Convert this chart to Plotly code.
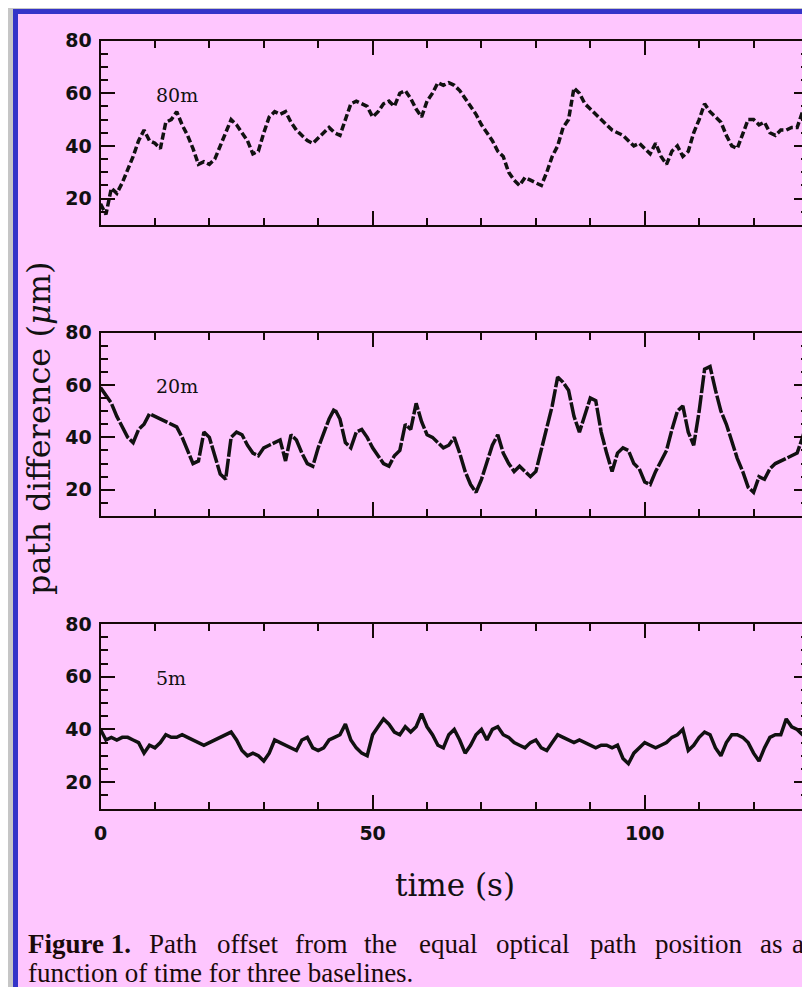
import plotly.graph_objects as go

# ---------------- data ----------------
time_s = list(range(0, 131))

path_80m = [18, 14, 24, 22, 26, 31, 36, 42, 46, 42,
            41, 39, 49, 50, 53, 48, 44, 39, 33, 34,
            33, 35, 40, 45, 50, 48, 45, 42, 37, 38,
            45, 51, 53, 52, 53, 49, 46, 44, 42, 41,
            43, 45, 47, 45, 44, 50, 56, 57, 56, 55,
            51, 53, 56, 57, 55, 60, 61, 58, 54, 51,
            57, 60, 64, 63, 64, 63, 61, 58, 55, 52,
            48, 45, 42, 38, 36, 30, 27, 25, 28, 27,
            26, 25, 30, 36, 40, 47, 50, 62, 60, 56,
            54, 52, 50, 48, 46, 45, 44, 42, 40, 41,
            39, 37, 41, 36, 33, 38, 40, 36, 38, 45,
            50, 56, 53, 51, 49, 44, 40, 39, 45, 50,
            50, 48, 49, 45, 44, 46, 46, 47, 47, 53,
            55]

path_20m = [59, 56, 53, 48, 44, 40, 38, 43, 45, 49,
            48, 47, 46, 45, 44, 40, 35, 30, 31, 42,
            40, 33, 26, 24, 40, 42, 41, 37, 34, 33,
            36, 37, 38, 39, 31, 41, 39, 34, 30, 29,
            36, 42, 47, 51, 47, 38, 36, 42, 43, 40,
            36, 33, 30, 29, 33, 35, 45, 43, 53, 46,
            41, 40, 38, 36, 37, 40, 34, 27, 22, 19,
            24, 31, 37, 41, 34, 30, 27, 29, 27, 25,
            27, 35, 43, 52, 63, 61, 58, 48, 42, 49,
            55, 54, 42, 34, 27, 34, 36, 35, 30, 28,
            23, 22, 27, 31, 35, 43, 50, 52, 42, 37,
            50, 66, 67, 58, 50, 45, 38, 32, 27, 21,
            19, 25, 24, 28, 30, 31, 32, 33, 34, 40,
            47]

path_5m = [40, 36, 37, 36, 37, 37, 36, 35, 31, 34,
           33, 35, 38, 37, 37, 38, 37, 36, 35, 34,
           35, 36, 37, 38, 39, 36, 32, 30, 31, 30,
           28, 31, 36, 35, 34, 33, 32, 36, 37, 33,
           32, 33, 36, 37, 38, 42, 36, 33, 31, 30,
           38, 41, 44, 42, 39, 38, 41, 39, 41, 46,
           41, 38, 34, 33, 38, 40, 36, 31, 34, 38,
           40, 36, 40, 41, 38, 37, 35, 34, 33, 35,
           36, 33, 32, 35, 38, 37, 36, 35, 36, 35,
           34, 33, 34, 34, 33, 34, 29, 27, 31, 33,
           35, 34, 33, 34, 35, 37, 38, 40, 32, 34,
           37, 39, 38, 33, 30, 35, 38, 38, 37, 35,
           31, 28, 33, 37, 38, 38, 44, 41, 40, 38,
           36]

baseline_labels = ["80m", "20m", "5m"]
x_range = [0, 130]
y_range = [10, 80]

y_title = "path difference (<i>μ</i>m)"
x_title = "time (s)"
caption_line1 = ["Figure 1.", "Path", "offset", "from", "the", "equal",
                 "optical", "path", "position", "as", "a"]
caption_line2 = "function of time for three baselines."

# ---------------- layout helpers ----------------
# the page body keeps an 8px margin, so the figure is drawn 8px in and
# all positions below are given in window pixels
OFF = 8
W, H = 810 - OFF, 987 - OFF


def px(x):
    return (x - OFF) / W


def py(y):
    return 1 - (y - OFF) / H


PINK = "#fec6fe"
GRAY = "#c6c6c6"
BLUE = "#3434c8"
INK = "#160808"

fig = go.Figure()

series = [path_80m, path_20m, path_5m]
dashes = ["7px,3px", "18px,2px", "solid"]
for i, (vals, dash) in enumerate(zip(series, dashes)):
    n = "" if i == 0 else str(i + 1)
    fig.add_trace(go.Scatter(
        x=time_s, y=vals, mode="lines",
        line=dict(color="#111111", width=3.5, dash=dash),
        xaxis="x" + n, yaxis="y" + n,
        showlegend=False, hoverinfo="skip"))

panel_tops = [40.5, 332.5, 624]
panel_bottoms = [225, 516, 808.5]
x_dom = [px(100.5), px(808)]

tickfont = dict(family="DejaVu Sans", size=19, color="#111111", weight="bold")

layout = dict(
    width=W, height=H,
    margin=dict(l=0, r=0, t=0, b=0, pad=0, autoexpand=False),
    paper_bgcolor=PINK, plot_bgcolor=PINK,
    showlegend=False,
)

for i in range(3):
    n = "" if i == 0 else str(i + 1)
    common = dict(showline=True, linewidth=2, linecolor=INK, mirror="ticks",
                  ticks="inside", tickwidth=2, tickcolor=INK,
                  showgrid=False, zeroline=False, fixedrange=True,
                  automargin=False)
    layout["xaxis" + n] = dict(
        common, domain=x_dom, range=x_range, anchor="y" + n,
        tickmode="linear", tick0=0, dtick=50, ticklen=14,
        minor=dict(tick0=0, dtick=10, ticklen=7, tickwidth=2,
                   tickcolor=INK, ticks="inside"),
        showticklabels=(i == 2), tickfont=tickfont,
        ticklabelstandoff=7)
    layout["yaxis" + n] = dict(
        common, domain=[py(panel_bottoms[i]), py(panel_tops[i])],
        range=y_range, anchor="x" + n,
        tickmode="linear", tick0=0, dtick=20, ticklen=14,
        minor=dict(tick0=0, dtick=5, ticklen=7, tickwidth=2,
                   tickcolor=INK, ticks="inside"),
        showticklabels=True, tickfont=tickfont, ticklabelstandoff=3)

fig.update_layout(**layout)

# frame: grey margin and blue border
shapes = [
    dict(type="rect", xref="paper", yref="paper", x0=0, x1=px(13), y0=0, y1=1,
         fillcolor=GRAY, line=dict(width=0), layer="below"),
    dict(type="rect", xref="paper", yref="paper", x0=0, x1=1, y0=py(9), y1=1,
         fillcolor=GRAY, line=dict(width=0), layer="below"),
    dict(type="rect", xref="paper", yref="paper", x0=px(13), x1=px(18),
         y0=0, y1=py(9), fillcolor=BLUE, line=dict(width=0), layer="below"),
    dict(type="rect", xref="paper", yref="paper", x0=px(13), x1=1,
         y0=py(14), y1=py(9), fillcolor=BLUE, line=dict(width=0), layer="below"),
]
fig.update_layout(shapes=shapes)

ann = []
serif = "DejaVu Serif"
for i, lab in enumerate(baseline_labels):
    n = "" if i == 0 else str(i + 1)
    ann.append(dict(text=lab, x=9.8, y=59.5, xref="x" + n, yref="y" + n,
                    xanchor="left", yanchor="middle", showarrow=False,
                    font=dict(family=serif, size=19, color="#111111")))

ann.append(dict(text=y_title, x=px(39), y=py(428), xref="paper", yref="paper",
                textangle=-90, showarrow=False, xanchor="center", yanchor="middle",
                font=dict(family=serif, size=32, color="#111111")))
ann.append(dict(text=x_title, x=px(455), y=py(885), xref="paper", yref="paper",
                showarrow=False, xanchor="center", yanchor="middle",
                font=dict(family=serif, size=31, color="#111111")))

# caption, first line justified word by word
word_x = [26, 147, 215, 293, 362, 417, 494, 588, 653, 758, 790]
cap_font = dict(family="Liberation Serif", size=27, color="#1a0a0a")
for w, xw in zip(caption_line1, word_x):
    txt = "<b>" + w + "</b>" if w.startswith("Figure") else w
    ann.append(dict(text=txt, x=px(xw), y=py(944), xref="paper", yref="paper",
                    showarrow=False, xanchor="left", yanchor="middle",
                    font=cap_font))
ann.append(dict(text=caption_line2, x=px(26), y=py(973), xref="paper",
                yref="paper", showarrow=False, xanchor="left", yanchor="middle",
                font=cap_font))

# fragment of the slide title above the frame
ann.append(dict(text="<b>y</b>", x=px(467), y=py(-12), xref="paper", yref="paper",
                showarrow=False, xanchor="center", yanchor="middle",
                font=dict(family="Liberation Serif", size=36, color="#000000")))

fig.update_layout(annotations=ann)

fig.write_html("out.html")
